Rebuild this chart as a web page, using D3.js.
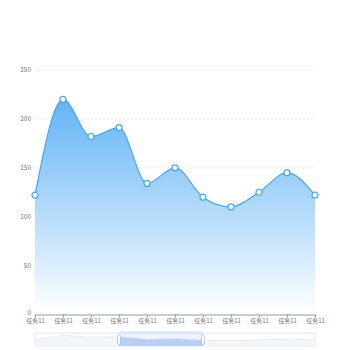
<!DOCTYPE html>
<html>
<head>
<meta charset="utf-8">
<script src="https://cdn.jsdelivr.net/npm/d3@7"></script>
<style>
body { margin: 0; background: #fff; }
text { font-family: "Noto Sans CJK SC", "DejaVu Sans", sans-serif; }
</style>
</head>
<body>
<div id="chart"></div>
<script>
var categories = ["任务11", "任务11", "任务11", "任务11", "任务11", "任务11", "任务11", "任务11", "任务11", "任务11", "任务11"]
var values = [122, 220, 182, 191, 134, 150, 120, 110, 125, 145, 122]
var yTicks = [0, 50, 100, 150, 200, 250]
var zoomRange = [0.3, 0.6]

var width = 350, height = 350
var margin = {top: 70, right: 35, bottom: 36, left: 35}
var innerW = width - margin.left - margin.right
var innerH = 314.5 - margin.top

var svg = d3.select("#chart").append("svg")
    .attr("width", width)
    .attr("height", height)

var defs = svg.append("defs")
var grad = defs.append("linearGradient")
    .attr("id", "areaGrad")
    .attr("x1", 0).attr("y1", 0).attr("x2", 0).attr("y2", 1)
grad.append("stop").attr("offset", "0%").attr("stop-color", "#62b3f6").attr("stop-opacity", 1)
grad.append("stop").attr("offset", "100%").attr("stop-color", "#ffffff").attr("stop-opacity", 1)

var g = svg.append("g")
    .attr("transform", "translate(" + margin.left + "," + margin.top + ")")

var x = d3.scalePoint()
    .domain(d3.range(categories.length))
    .range([0, innerW])

var y = d3.scaleLinear()
    .domain([0, 250])
    .range([innerH, 0])

// grid lines
g.selectAll(".grid")
    .data(yTicks.filter(function(d) { return d > 0 }))
    .enter()
    .append("line")
    .attr("class", "grid")
    .attr("x1", 0)
    .attr("x2", innerW)
    .attr("y1", function(d) { return y(d) })
    .attr("y2", function(d) { return y(d) })
    .style("stroke", "#e8e8e8")
    .style("stroke-dasharray", "2,2")
    .style("stroke-width", 1)

// y labels
g.selectAll(".ylab")
    .data(yTicks)
    .enter()
    .append("text")
    .attr("class", "ylab")
    .attr("x", -4)
    .attr("y", function(d) { return d == 0 ? y(d) - 2 : y(d) })
    .attr("dy", "0.32em")
    .attr("text-anchor", "end")
    .style("font-size", "6.5px")
    .style("fill", "#777")
    .text(function(d) { return d })

// area + line
var area = d3.area()
    .x(function(d, i) { return x(i) })
    .y0(innerH)
    .y1(function(d) { return y(d) })
    .curve(d3.curveMonotoneX)

var line = d3.line()
    .x(function(d, i) { return x(i) })
    .y(function(d) { return y(d) })
    .curve(d3.curveMonotoneX)

g.append("path")
    .datum(values)
    .attr("d", area)
    .style("fill", "url(#areaGrad)")

g.append("path")
    .datum(values)
    .attr("d", line)
    .style("fill", "none")
    .style("stroke", "#48a6f2")
    .style("stroke-width", 1.2)

// x axis
var xAxis = d3.axisBottom(x)
    .tickSize(3)
    .tickFormat(function(i) { return categories[i] })

var ax = g.append("g")
    .attr("transform", "translate(0," + innerH + ")")
    .call(xAxis)
ax.select(".domain").style("stroke", "#999")
ax.selectAll(".tick line").style("stroke", "#999")
ax.selectAll(".tick text")
    .attr("y", 4.5)
    .attr("dy", "0.71em")
    .style("font-size", "6px")
    .style("fill", "#777")
    .style("font-family", "Noto Sans CJK SC, sans-serif")

// points
g.selectAll(".pt")
    .data(values)
    .enter()
    .append("circle")
    .attr("class", "pt")
    .attr("cx", function(d, i) { return x(i) })
    .attr("cy", function(d) { return y(d) })
    .attr("r", 3)
    .style("fill", "#fff")
    .style("stroke", "#48a6f2")
    .style("stroke-width", 1.2)

// data zoom slider
var sTop = 333, sH = 13
var slider = svg.append("g").attr("transform", "translate(" + margin.left + "," + sTop + ")")

slider.append("rect")
    .attr("width", innerW)
    .attr("height", sH)
    .style("fill", "none")
    .style("stroke", "#dbe3f3")
    .style("stroke-width", 1)

var ys = d3.scaleLinear().domain([0, 250]).range([sH, 1])
var shadowArea = d3.area()
    .x(function(d, i) { return x(i) })
    .y0(sH)
    .y1(function(d) { return ys(d) })

slider.append("path")
    .datum(values)
    .attr("d", shadowArea)
    .style("fill", "#f3f5fa")

slider.append("path")
    .datum(values)
    .attr("d", d3.line().x(function(d, i) { return x(i) }).y(function(d) { return ys(d) }))
    .style("fill", "none")
    .style("stroke", "#e1e7f1")
    .style("stroke-width", 0.8)

var sx0 = zoomRange[0] * innerW, sx1 = zoomRange[1] * innerW

slider.append("clipPath").attr("id", "selClip")
    .append("rect").attr("x", sx0).attr("y", 0).attr("width", sx1 - sx0).attr("height", sH)

slider.append("path")
    .datum(values)
    .attr("d", shadowArea)
    .attr("clip-path", "url(#selClip)")
    .style("fill", "#c4d6f7")

slider.append("rect")
    .attr("x", sx0)
    .attr("y", 0)
    .attr("width", sx1 - sx0)
    .attr("height", sH)
    .style("fill", "#87a8f0")
    .style("fill-opacity", 0.15)

slider.append("rect")
    .attr("x", sx0)
    .attr("y", -1.5)
    .attr("width", sx1 - sx0)
    .attr("height", 1.5)
    .style("fill", "#dde6f8")

slider.selectAll(".handle")
    .data([sx0, sx1])
    .enter()
    .append("rect")
    .attr("class", "handle")
    .attr("x", function(d) { return d - 1.5 })
    .attr("y", 2)
    .attr("width", 3)
    .attr("height", sH - 4)
    .attr("rx", 1)
    .style("fill", "#fff")
    .style("stroke", "#aab4c4")
    .style("stroke-width", 0.7)
</script>
</body>
</html>
